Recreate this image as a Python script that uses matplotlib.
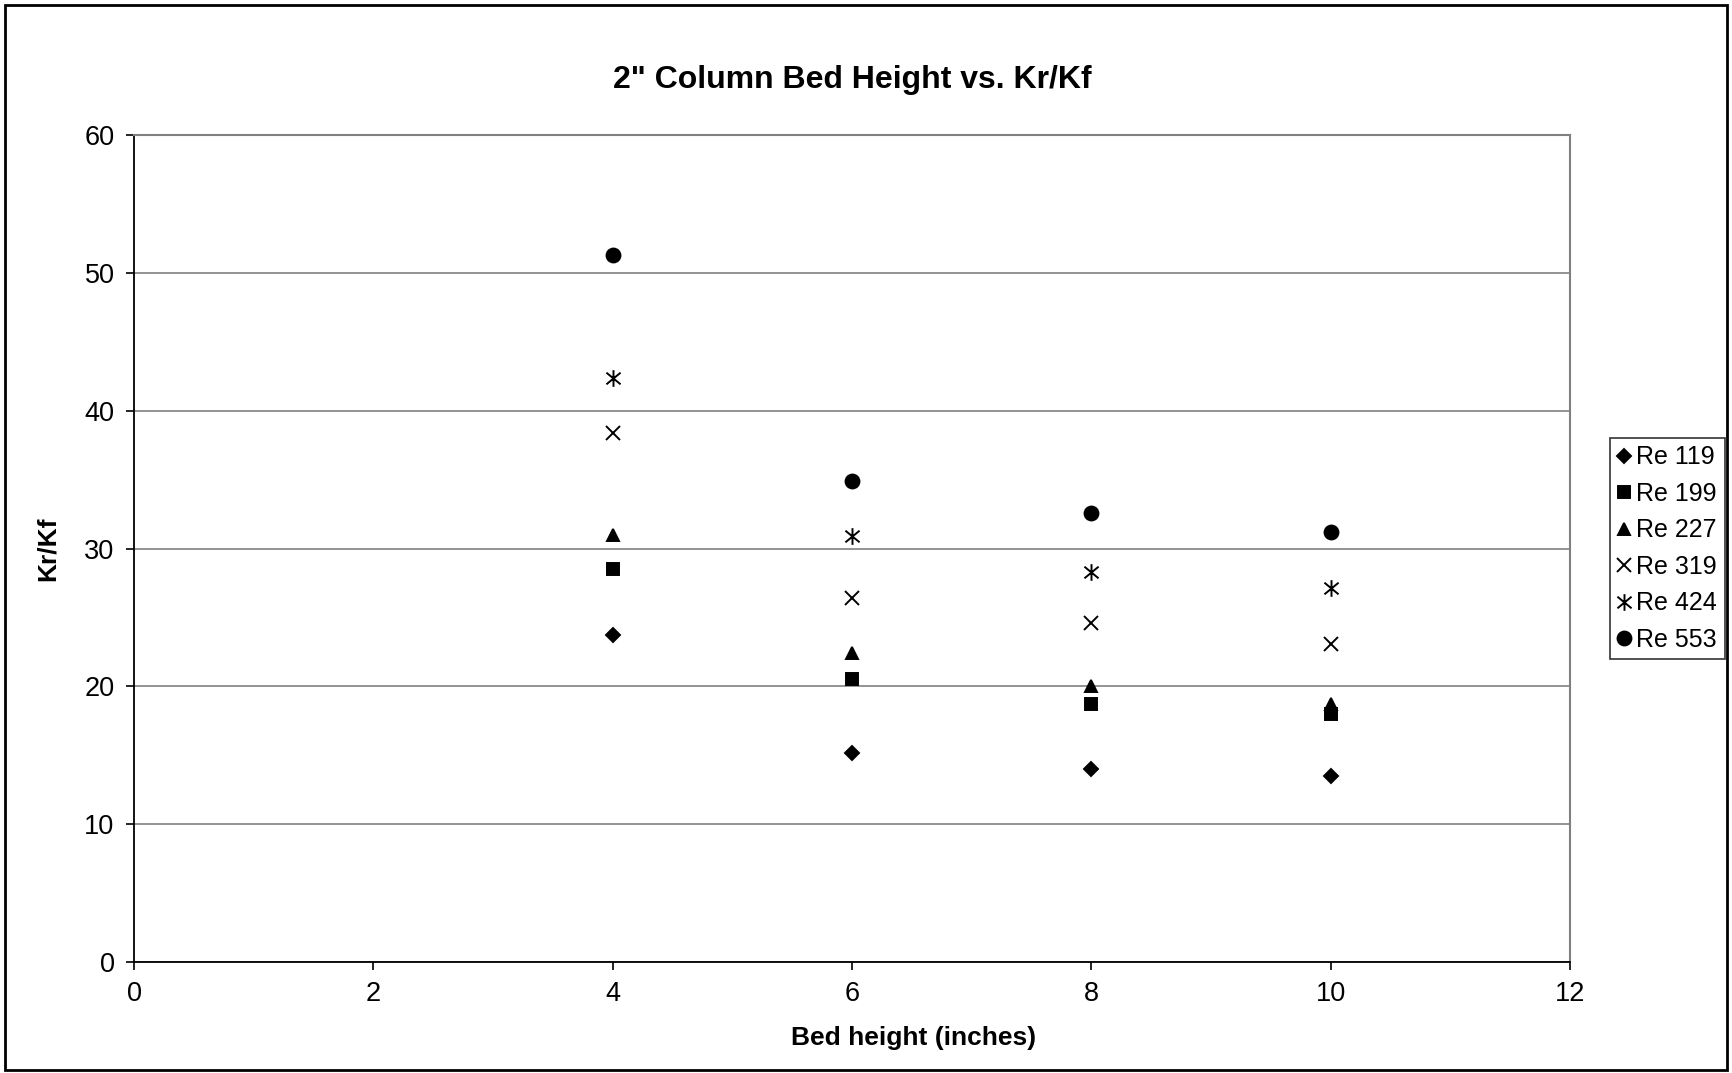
import matplotlib
matplotlib.use('Agg')
import matplotlib.pyplot as plt
from matplotlib.patches import Rectangle
from matplotlib.path import Path

plt.rcParams['font.family'] = ['Liberation Sans', 'DejaVu Sans']

# 数据
bed_height = [4, 6, 8, 10]
re_119 = [23.7, 15.2, 14.0, 13.5]
re_199 = [28.5, 20.5, 18.75, 18.0]
re_227 = [31.0, 22.4, 20.0, 18.7]
re_319 = [38.4, 26.4, 24.6, 23.1]
re_424 = [42.4, 30.9, 28.3, 27.1]
re_553 = [51.3, 34.9, 32.6, 31.2]

labels = ['Re 119', 'Re 199', 'Re 227', 'Re 319', 'Re 424', 'Re 553']
series = [re_119, re_199, re_227, re_319, re_424, re_553]

# 竖线 + 叉号的星形标记
star = Path([(0, -1), (0, 1), (-0.85, -0.7), (0.85, 0.7), (-0.85, 0.7), (0.85, -0.7)],
            [Path.MOVETO, Path.LINETO, Path.MOVETO, Path.LINETO, Path.MOVETO, Path.LINETO])
markers = ['D', 's', '^', 'x', star, 'o']
sizes = [7, 9, 9, 10, 12, 10]

fig = plt.figure(figsize=(17.32, 10.73), dpi=100)
ax = fig.add_axes([0.0774, 0.1034, 0.829, 0.7708])

for vals, lab, m, s in zip(series, labels, markers, sizes):
    ax.plot(bed_height, vals, linestyle='none', marker=m, markersize=s,
            color='black', markeredgecolor='black', markeredgewidth=1.4, label=lab)

ax.set_xlim(0, 12)
ax.set_ylim(0, 60)
ax.set_xticks(range(0, 13, 2))
ax.set_yticks(range(0, 61, 10))
ax.tick_params(direction='out', length=6, width=1.2, labelsize=19.5, pad=8, colors='black')
ax.tick_params(top=False, right=False)
ax.grid(True, axis='y', color='#808080', linewidth=1.2)
ax.set_axisbelow(True)

for side in ['top', 'right']:
    ax.spines[side].set_color('#808080')
    ax.spines[side].set_linewidth(1.5)
for side in ['left', 'bottom']:
    ax.spines[side].set_color('black')
    ax.spines[side].set_linewidth(1.3)

ax.set_title('2" Column Bed Height vs. Kr/Kf', fontsize=23, fontweight='bold', pad=34)
ax.set_xlabel('Bed height (inches)', fontsize=19, fontweight='bold')
ax.xaxis.set_label_coords(0.543, -0.077)
ax.set_ylabel('Kr/Kf', fontsize=19, fontweight='bold', labelpad=18)

leg = ax.legend(loc='center left', bbox_to_anchor=(1.028, 0.5), fontsize=18,
                frameon=True, fancybox=False, edgecolor='black', handlelength=0.5,
                handletextpad=0.25, borderpad=0.3, labelspacing=0.5, borderaxespad=0)
leg.get_frame().set_linewidth(1.2)

# 外框
fig.patches.append(Rectangle((0.003, 0.003), 0.994, 0.992, transform=fig.transFigure,
                             fill=False, edgecolor='black', linewidth=2))

plt.savefig('out.png', dpi=100)
plt.close()
